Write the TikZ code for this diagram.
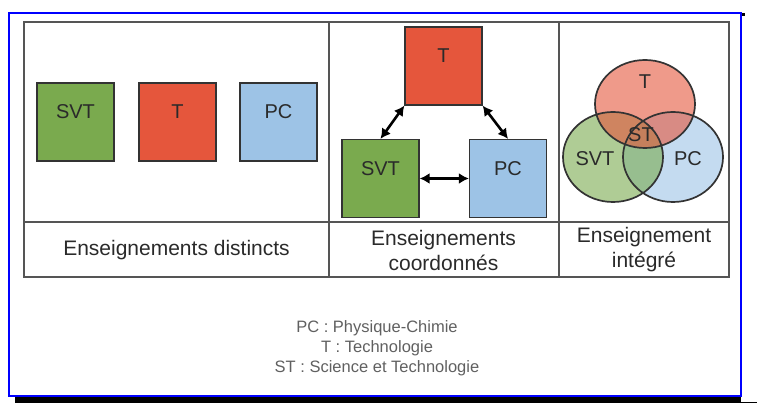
\documentclass[tikz,border=0pt]{standalone}
\usepackage{fontspec}
\setmainfont{Liberation Sans}
\usepackage{xcolor}
\usepackage{tikz}
\usetikzlibrary{arrows.meta,positioning}
\definecolor{cadre}{HTML}{0000FF}
\definecolor{trait}{HTML}{555555}
\definecolor{bord}{HTML}{333333}
\definecolor{vert}{HTML}{7AAA4E}
\definecolor{rouge}{HTML}{E5563C}
\definecolor{bleu}{HTML}{9DC3E6}
\definecolor{texte}{HTML}{2A2A2A}
\definecolor{legende}{HTML}{606060}
\tikzset{
  grille/.style={draw=trait, line width=1.3pt},
  boite/.style={draw=bord, line width=1.3pt, minimum width=77pt, minimum height=78pt, inner sep=0pt,
    text=texte, font=\fontsize{20}{24}\selectfont, text height=15pt, text depth=21pt},
  fleche/.style={draw=black, line width=2.6pt, {Latex[length=10pt,width=11pt]}-{Latex[length=10pt,width=11pt]}},
  cercle/.style={draw=bord, line width=1.7pt},
  lab/.style={text=texte, font=\fontsize{21}{25}\selectfont, align=center},
  labv/.style={text=texte, font=\fontsize{20}{24}\selectfont, inner sep=0pt},
  leg/.style={text=legende, font=\fontsize{16.5}{20}\selectfont, align=center},
}

\begin{document}
\begin{tikzpicture}[x=1pt, y=-1pt]
\useasboundingbox (0,0) rectangle (757,403);
% cadre bleu et ombre
\fill[black] (15,397) rectangle (741,403);
\draw[black, line width=0.8pt] (741,402.5) -- (757,402.5);
\fill[black] (741.5,13.5) rectangle (745,16.5);
\draw[cadre, line width=2pt] (9,13.5) rectangle (741,396);

% tableau
\draw[grille] (24,22) rectangle (729,277);
\draw[grille] (24,222) -- (729,222);
\foreach \x in {329,559}{
  \draw[grille] (\x,22) -- (\x,277);
}

% enseignements distincts
\node[boite, fill=vert] (svtA) at (75.5,122) {SVT};
\node[boite, fill=rouge] (tA) at (177.5,122) {T};
\node[boite, fill=bleu] (pcA) at (278.5,122) {PC};

% enseignements coordonnes
\node[boite, fill=rouge] (tB) at (443.5,66) {T};
\node[boite, fill=vert] (svtB) at (380.5,178.5) {SVT};
\node[boite, fill=bleu] (pcB) at (508,178.5) {PC};
\draw[fleche] (svtB.east) -- (pcB.west);
\draw[fleche] (tB.south west) -- (svtB.north);
\draw[fleche] (tB.south east) -- (pcB.north);

% enseignement integre
\fill[bleu, fill opacity=.6] (673,157) ellipse [x radius=50, y radius=45];
\fill[vert, fill opacity=.6] (613,157) ellipse [x radius=50, y radius=45];
\fill[rouge, fill opacity=.6] (645,104) ellipse [x radius=50, y radius=44];
\draw[cercle] (673,157) ellipse [x radius=50, y radius=45];
\draw[cercle] (613,157) ellipse [x radius=50, y radius=45];
\draw[cercle] (645,104) ellipse [x radius=50, y radius=44];
\node[labv] (tC) at (645,82) {T};
\node[labv] (stC) at (641,135) {ST};
\node[labv] (svtC) at (595,159) {SVT};
\node[labv] (pcC) at (688,159) {PC};

% titres des colonnes
\node[lab] (titreA) at (176.5,250) {Enseignements distincts};
\node[lab] (titreB) at (443.5,250) {Enseignements\\coordonnés};
\node[lab] (titreC) at (644,250) {Enseignement\\intégré};

% legende
\node[leg] (legende) at (377,348) {PC : Physique-Chimie\\T : Technologie\\ST : Science et Technologie};
\end{tikzpicture}
\end{document}
